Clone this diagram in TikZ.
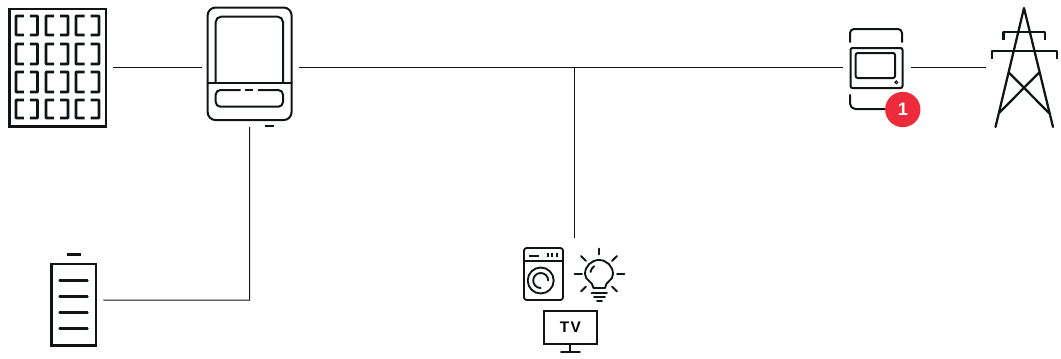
\documentclass[tikz,border=0pt]{standalone}
\usepackage{fontspec}
\setmainfont{Liberation Sans}
\usetikzlibrary{calc}
\definecolor{ink}{HTML}{111416}
\definecolor{badgered}{HTML}{EE2B3B}
\tikzset{
  wire/.style={draw=ink,line width=0.75pt},
  icon/.style={draw=ink,line width=1.5pt,line cap=round,line join=round},
  heavy/.style={draw=ink,line width=1.7pt,line cap=round,line join=round},
  cell/.style={draw=ink,line width=1.9pt,line cap=butt,rounded corners=0.4pt},
  iconthin/.style={draw=ink,line width=1.4pt,line cap=round,line join=round},
  box/.style={draw=ink,line width=1.5pt,inner sep=0pt,outer sep=0pt,rectangle},
  ghost/.style={inner sep=0pt,outer sep=0pt,rectangle},
}
\begin{document}
\begin{tikzpicture}[x=0.75pt,y=-0.75pt]
\useasboundingbox (0,0) rectangle (1061,358);
% --- nodes ---
\node[box,line width=2pt,minimum width=72.5pt,minimum height=88pt] (pv) at (57.5,67.5) {};
\node[box,rounded corners=6pt,minimum width=63pt,minimum height=84.4pt] (inv) at (249.6,63.8) {};
\node[box,line width=2pt,minimum width=33.5pt,minimum height=61pt] (bat) at (73.5,304.5) {};
\node[box,rounded corners=1.5pt,minimum width=39pt,minimum height=30pt] (meter) at (876.5,68) {};
\node[ghost,minimum width=49pt,minimum height=90pt] (tower) at (1024,67) {};
\node[ghost,minimum width=76.5pt,minimum height=79pt] (loads) at (574,300) {};
\coordinate (tee) at (574,67.5);
\coordinate (bend) at (249.5,300);
% --- connectors ---
\draw[wire,shorten <=5.6pt] (pv.east) -- ([xshift=-3.9pt]inv.west |- pv.east);
\draw[wire,shorten <=5.4pt] (inv.east |- pv.east) -- ([xshift=-6pt]meter.west |- pv.east);
\draw[wire,shorten <=6pt] (meter.east |- pv.east) -- ([xshift=-3.8pt]tower.west |- pv.east);
\draw[wire] (tee) -- ([yshift=6.8pt]loads.north);
\draw[wire] ([yshift=-5.2pt]inv.south) -- (bend) -- ([xshift=5.6pt]bat.east |- bend);
% --- PV cells ---
\foreach \cx/\w in {16/21.5,46/22,76/23}{
  \foreach \cy/\h in {16/19,44/20,72/20,100/18}{
    \draw[cell] (\cx+0.5*\w-3,\cy) -- (\cx,\cy) -- (\cx,\cy+\h) -- (\cx+0.5*\w-3,\cy+\h);
    \draw[cell] (\cx+0.5*\w+3,\cy) -- (\cx+\w,\cy) -- (\cx+\w,\cy+\h) -- (\cx+0.5*\w+3,\cy+\h);
  }
}
% --- inverter details ---
\draw[icon] (207.7,83) -- (291.7,83);
\draw[icon,rounded corners=4pt] (215.7,83) -- (215.7,16.7) -- (283,16.7) -- (283,83);
\draw[icon,rounded corners=3.5pt] (240,90) -- (215.7,90) -- (215.7,106.7) -- (283,106.7) -- (283,90) -- (258.5,90);
\draw[icon,line cap=butt] (245,90) -- (253,90);
\draw[icon,line cap=butt] (265,125.7) -- (274,125.7);
% --- meter details ---
\draw[icon,rounded corners=3pt] (850,42) -- (850,29) -- (902,29) -- (902,42);
\draw[icon,rounded corners=4pt] (850,95) -- (850,109) -- (890,109);
\draw[icon,rounded corners=1.5pt] (855.7,53) rectangle (895,78);
\draw[draw=ink,line width=0.8pt] (896.3,82.3) circle (1.4);
\node[circle,fill=badgered,inner sep=0pt,minimum size=26.5pt,text=white,font=\fontsize{13.5pt}{13.5pt}\selectfont\bfseries] (badge) at (902.8,109.5) {1};
% --- tower ---
\draw[heavy] (995.5,127) -- (1024,8) -- (1053,127);
\draw[heavy,line cap=butt] (1003.5,40) -- (1003.5,32) -- (1045,32) -- (1045,40);
\draw[heavy,line cap=butt] (992,59) -- (992,51) -- (1056.7,51) -- (1056.7,59);
\draw[heavy] (1009,72.7) -- (1049,113);
\draw[heavy] (1039,72.7) -- (999,113);
% --- battery details ---
\draw[heavy,line cap=butt] (66.7,254.5) -- (80.7,254.5);
\foreach \yy in {280.5,296.5,312.5,328.5}{
  \draw[heavy] (59.5,\yy) -- (87.5,\yy);
}
% --- washer ---
\draw[iconthin,rounded corners=2pt] (524,248) rectangle (563,300);
\draw[iconthin] (524,260.7) -- (563,260.7);
\draw[iconthin,line cap=butt] (529,256) -- (539,256);
\foreach \xx in {548,552.3,556.6}{
  \draw[iconthin,line cap=butt] (\xx,252.5) -- (\xx,257);
}
\draw[iconthin] (540.7,280.5) circle (13);
\draw[iconthin] (548.2,280.5) arc (360:90:7.5);
% --- bulb ---
\draw[iconthin] (593.5,288) .. controls (593,281) and (585,281) .. (585,274) arc (180:360:14) .. controls (613,281) and (605.5,281) .. (605,288) -- cycle;
\draw[iconthin] (591.5,292.7) -- (607,292.7);
\draw[iconthin] (594,296.8) -- (605,296.8);
\draw[iconthin] (597,300.8) -- (602,300.8);
\draw[iconthin] (590.5,272) arc (190:235:9);
\draw[iconthin] (599,248.5) -- (599,254.5);
\draw[iconthin] (574.5,273.7) -- (582,273.7);
\draw[iconthin] (617,273.7) -- (624.5,273.7);
\draw[iconthin] (581,256) -- (586,261);
\draw[iconthin] (617,256) -- (612,261);
\draw[iconthin] (581,291.5) -- (586,286.5);
\draw[iconthin] (617,291.5) -- (612,286.5);
% --- TV ---
\node[box,line width=1.4pt,minimum width=39.5pt,minimum height=25pt,font=\fontsize{11.5pt}{11.5pt}\selectfont\bfseries] (tv) at (570.3,327.3) {T\kern1pt V};
\draw[iconthin,line cap=butt] (tv.south) -- ++(0,8);
\draw[iconthin] (561,352) -- (580,352);
\end{tikzpicture}
\end{document}
